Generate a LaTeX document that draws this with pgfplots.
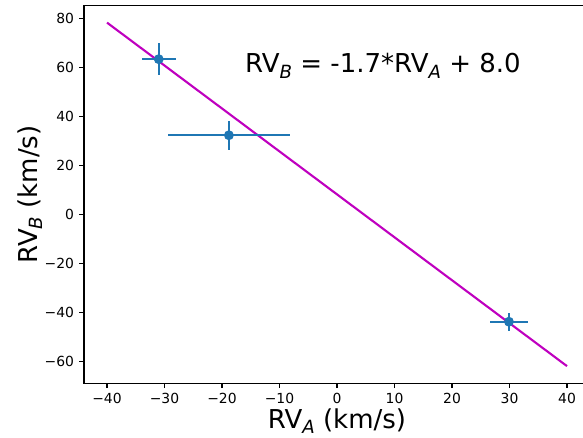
\documentclass[border=0pt]{standalone}
\usepackage{pgfplots}
\pgfplotsset{compat=1.18}
\usepackage{fontspec}
\setmainfont{DejaVu Sans}
\definecolor{cblue}{HTML}{1F77B4}
\definecolor{cmag}{HTML}{BF00BF}
\newcommand{\sub}[1]{\raisebox{-0.2em}{\fontsize{18.2pt}{18.2pt}\selectfont\itshape #1}}
\begin{document}
\begin{tikzpicture}
\begin{axis}[at={(84pt,54.7pt)}, anchor=south west,
  width=506pt, height=377.6pt, scale only axis,
  xmin=-44, xmax=44, ymin=-68.8, ymax=85.1,
  xtick={-40,-30,...,40}, xticklabels={−40,−30,−20,−10,0,10,20,30,40},
  ytick={-60,-40,...,80}, yticklabels={−60,−40,−20,0,20,40,60,80},
  tick align=outside, tick pos=left, major tick length=4.9pt,
  tick style={line width=1.1pt, black},
  axis line style={line width=1.1pt, black},
  tick label style={font=\fontsize{13.9pt}{13.9pt}\selectfont},
  xticklabel style={inner sep=0pt, yshift=-4.9pt},
  yticklabel style={inner sep=0pt, xshift=-4.9pt},
  xlabel={RV\sub{A} (km/s)}, ylabel={RV\sub{B} (km/s)},
  label style={font=\fontsize{26pt}{26pt}\selectfont},
  x label style={inner sep=0pt, yshift=-5pt},
  y label style={inner sep=0pt, yshift=2pt},
  clip=false,
]
\addplot[cmag, line width=2.1pt] coordinates {(-40,78.2) (40,-61.8)};
\addplot[cblue, only marks, mark=none,
  error bars/.cd, x dir=both, x explicit, y dir=both, y explicit,
  error bar style={line width=2.1pt, cblue}, error mark=none]
  coordinates {
  (-31.0,63.3) +- (3.0,6.4)
  (-18.8,32.3) +- (10.6,6.0)
  (29.9,-43.7) +- (3.35,3.7)
  };
\addplot[cblue, only marks, mark=*, mark size=4.2pt,
  mark options={fill=cblue, draw=cblue, line width=1.4pt}]
  coordinates {(-31.0,63.3) (-18.8,32.3) (29.9,-43.7)};
\node[anchor=base west, font=\fontsize{26pt}{26pt}\selectfont, inner sep=0pt] at (axis cs:-16,57.7) {RV\sub{B} = -1.7*RV\sub{A} + 8.0};
\end{axis}
\pgfresetboundingbox
\useasboundingbox (0,0) rectangle (583pt,438pt);
\end{tikzpicture}
\end{document}
